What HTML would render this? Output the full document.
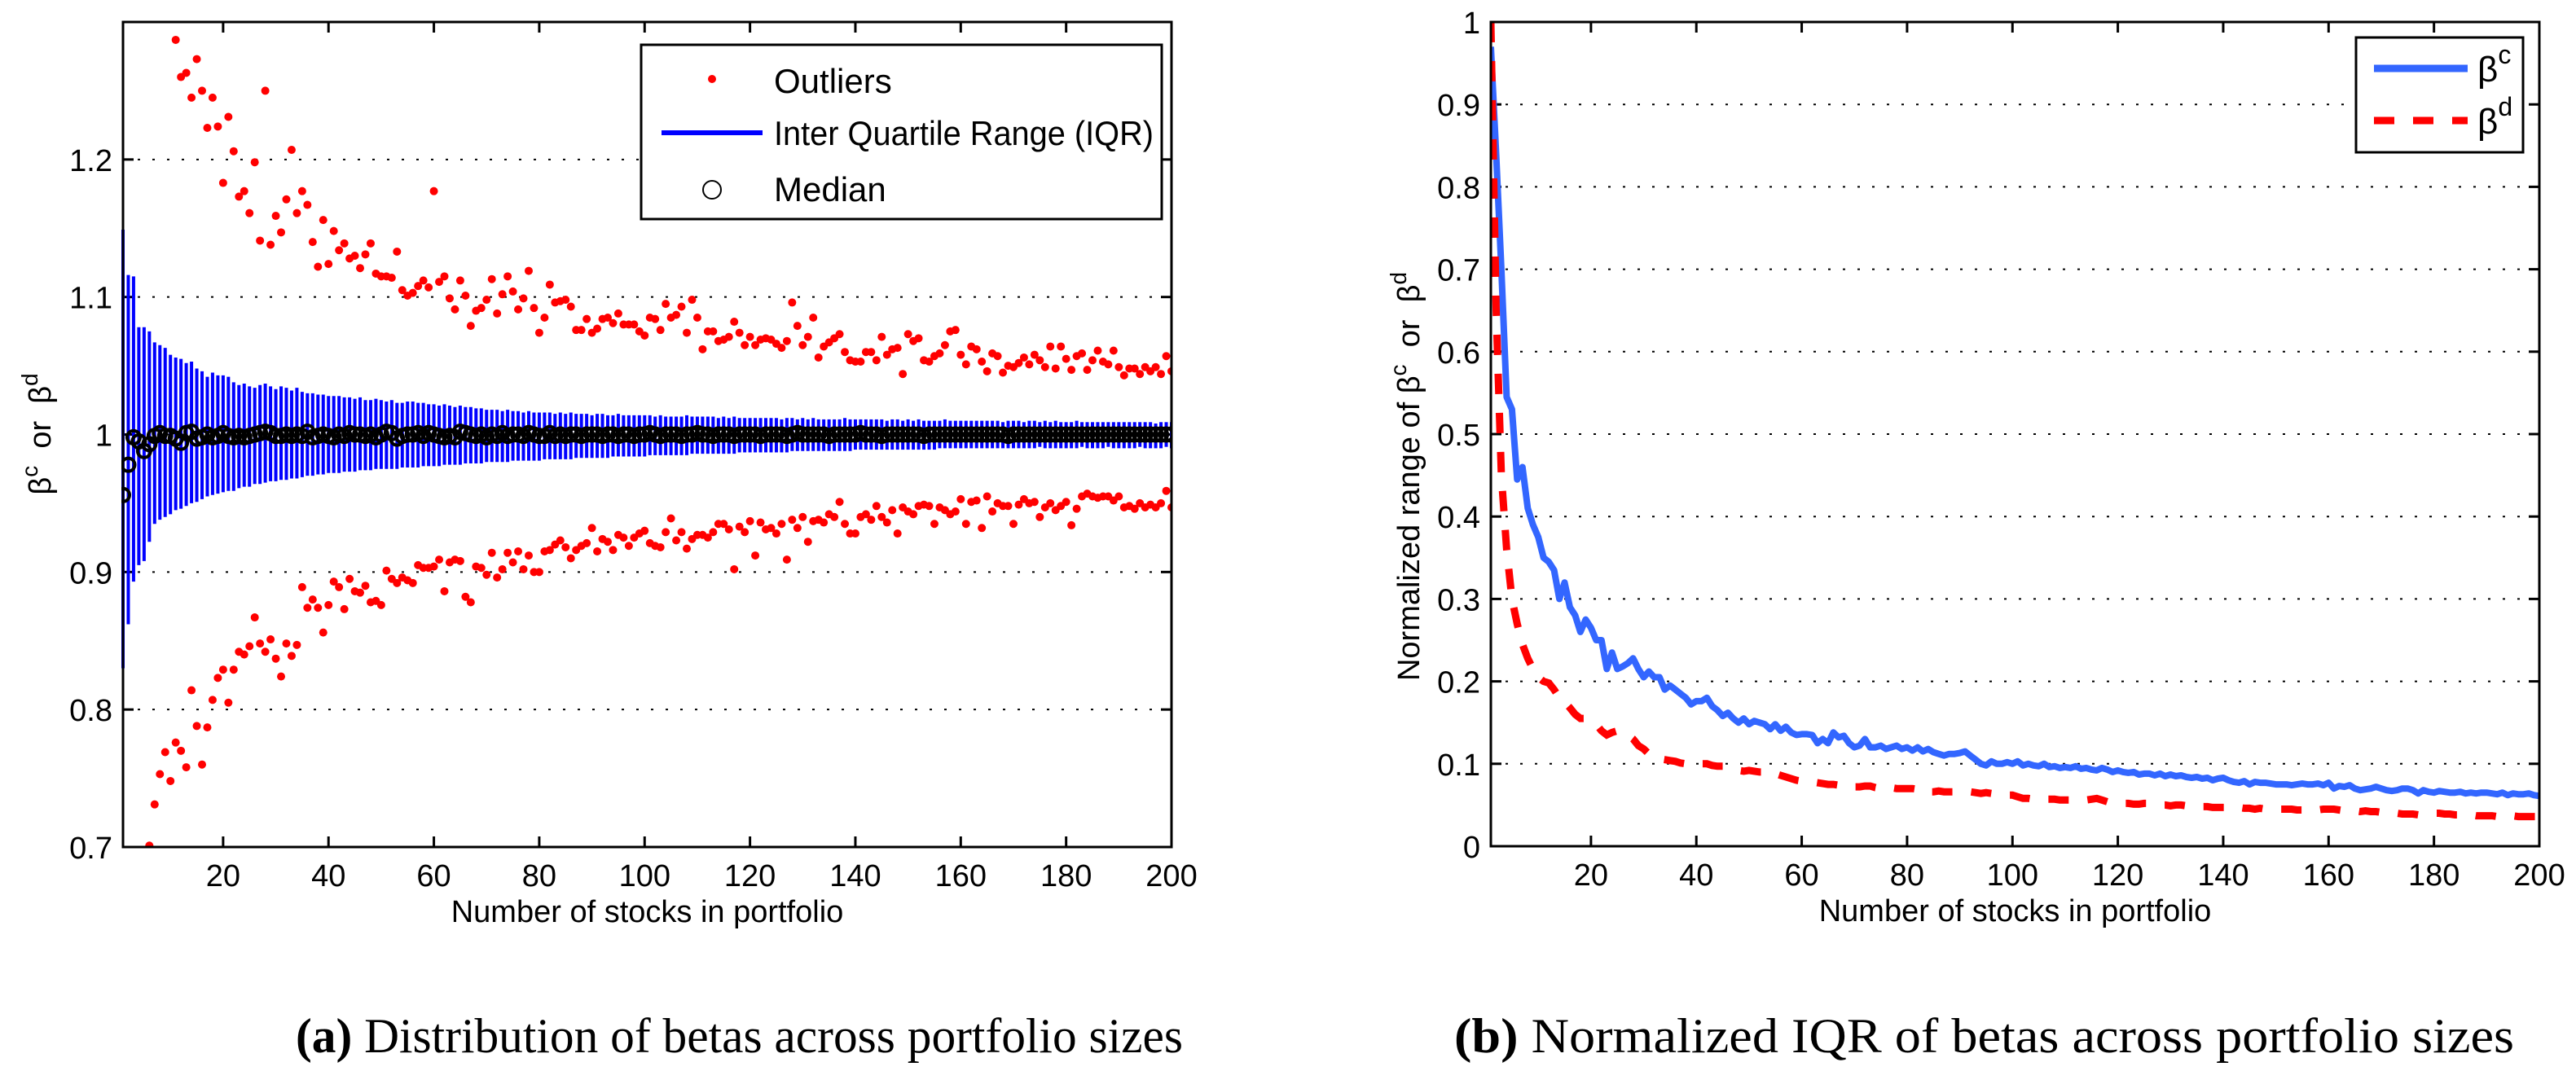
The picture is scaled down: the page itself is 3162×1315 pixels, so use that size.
<!DOCTYPE html>
<html><head><meta charset="utf-8"><style>
html,body{margin:0;padding:0;background:#fff}
svg{display:block}
text{font-family:"Liberation Sans",sans-serif}
.cap{font-family:"Liberation Serif",serif}
</style></head><body>
<svg id="fig" width="3162" height="1315" viewBox="0 0 3162 1315" xmlns="http://www.w3.org/2000/svg">
<rect width="3162" height="1315" fill="#fff"/>
<g id="left"></g>
<g id="right"></g>
<text class="cap" x="363" y="1292" font-size="60" textLength="1089" lengthAdjust="spacingAndGlyphs"><tspan font-weight="bold">(a)</tspan> Distribution of betas across portfolio sizes</text>
<text class="cap" x="1785" y="1292" font-size="60" textLength="1301" lengthAdjust="spacingAndGlyphs"><tspan font-weight="bold">(b)</tspan> Normalized IQR of betas across portfolio sizes</text>
</svg>
<script>
const xTicks = [20,40,60,80,100,120,140,160,180,200];
const yTicksL = [0.7,0.8,0.9,1,1.1,1.2];
const yTickLabelsL = ["0.7","0.8","0.9","1","1.1","1.2"];
const yTicksR = [0,0.1,0.2,0.3,0.4,0.5,0.6,0.7,0.8,0.9,1];
const yTickLabelsR = ["0","0.1","0.2","0.3","0.4","0.5","0.6","0.7","0.8","0.9","1"];
const q3 = [1.149,1.116,1.115,1.078,1.078,1.075,1.067,1.065,1.063,1.058,
1.056,1.055,1.052,1.053,1.048,1.046,1.042,1.045,1.043,1.043,
1.042,1.038,1.036,1.037,1.035,1.034,1.036,1.037,1.035,1.033,
1.035,1.034,1.032,1.034,1.031,1.030,1.030,1.029,1.029,1.028,
1.028,1.028,1.027,1.027,1.026,1.027,1.025,1.025,1.026,1.025,
1.024,1.025,1.023,1.023,1.024,1.024,1.023,1.023,1.022,1.022,
1.021,1.022,1.021,1.020,1.021,1.020,1.020,1.019,1.019,1.018,
1.018,1.018,1.017,1.018,1.017,1.017,1.016,1.017,1.016,1.016,
1.016,1.016,1.015,1.016,1.015,1.016,1.015,1.015,1.015,1.014,
1.015,1.015,1.014,1.014,1.015,1.014,1.014,1.014,1.014,1.014,
1.014,1.013,1.014,1.013,1.013,1.013,1.013,1.014,1.013,1.013,
1.013,1.013,1.013,1.012,1.013,1.012,1.013,1.012,1.012,1.012,
1.012,1.012,1.012,1.012,1.012,1.011,1.012,1.012,1.011,1.012,
1.011,1.012,1.011,1.011,1.011,1.011,1.011,1.012,1.011,1.011,
1.011,1.011,1.011,1.011,1.011,1.010,1.011,1.011,1.010,1.011,
1.010,1.011,1.010,1.010,1.010,1.010,1.011,1.010,1.010,1.010,
1.010,1.010,1.010,1.010,1.010,1.010,1.010,1.009,1.010,1.010,
1.010,1.009,1.010,1.010,1.009,1.010,1.009,1.010,1.009,1.009,
1.009,1.010,1.009,1.009,1.009,1.009,1.009,1.009,1.009,1.009,
1.009,1.009,1.009,1.009,1.009,1.009,1.008,1.009,1.009,1.009];
const q1 = [0.830,0.862,0.893,0.905,0.908,0.922,0.935,0.938,0.940,0.942,
0.945,0.946,0.948,0.950,0.951,0.953,0.955,0.956,0.957,0.958,
0.959,0.959,0.961,0.962,0.962,0.964,0.964,0.965,0.966,0.966,
0.967,0.967,0.968,0.968,0.969,0.970,0.970,0.971,0.971,0.972,
0.972,0.972,0.973,0.973,0.973,0.974,0.974,0.974,0.975,0.975,
0.975,0.975,0.975,0.976,0.976,0.976,0.976,0.977,0.977,0.977,
0.977,0.978,0.978,0.978,0.978,0.979,0.979,0.979,0.979,0.980,
0.980,0.980,0.980,0.980,0.981,0.981,0.981,0.981,0.981,0.981,
0.982,0.982,0.982,0.982,0.982,0.982,0.983,0.983,0.983,0.983,
0.983,0.983,0.983,0.984,0.984,0.984,0.984,0.984,0.984,0.984,
0.985,0.985,0.985,0.985,0.985,0.985,0.985,0.985,0.986,0.986,
0.986,0.986,0.986,0.986,0.986,0.986,0.986,0.987,0.987,0.987,
0.987,0.987,0.987,0.987,0.987,0.987,0.987,0.988,0.988,0.988,
0.988,0.988,0.988,0.988,0.988,0.988,0.988,0.988,0.988,0.989,
0.989,0.989,0.989,0.989,0.989,0.989,0.989,0.989,0.989,0.989,
0.989,0.989,0.989,0.989,0.989,0.990,0.990,0.990,0.990,0.990,
0.990,0.990,0.990,0.990,0.990,0.990,0.990,0.990,0.990,0.990,
0.990,0.990,0.990,0.990,0.991,0.990,0.990,0.990,0.990,0.990,
0.990,0.990,0.991,0.990,0.990,0.990,0.990,0.991,0.990,0.990,
0.990,0.990,0.990,0.991,0.990,0.990,0.990,0.990,0.991,0.990];
const medians = [0.956,0.978,0.998,0.995,0.988,0.993,0.999,1.001,0.999,0.999,
0.997,0.994,1.001,1.002,0.997,0.998,1.000,0.998,0.999,1.001,
0.999,0.998,0.999,0.998,0.999,1.000,1.001,1.002,1.001,0.999,
0.999,1.000,0.999,1.000,0.999,1.002,0.998,0.999,1.000,0.999,
0.998,1.000,0.999,1.001,1.000,1.000,0.999,1.000,0.998,1.000,
1.002,1.001,0.997,0.999,1.000,1.000,1.001,0.999,1.001,1.000,
0.999,0.998,0.999,0.998,1.002,1.001,1.000,0.999,1.000,0.998,
1.000,0.999,1.001,0.999,1.000,1.000,0.999,1.001,1.000,0.999,
0.999,1.001,0.999,1.000,0.999,1.000,1.000,0.999,1.000,1.000,
1.000,0.999,1.000,1.000,0.999,1.000,1.000,0.999,1.000,1.000,
1.001,1.000,0.999,1.000,1.000,1.000,0.999,1.000,1.000,1.001,
1.000,1.000,0.999,1.000,1.000,1.000,0.999,1.000,1.000,1.000,
1.000,0.999,1.000,1.000,1.000,1.000,0.999,1.000,1.001,1.000,
1.000,1.000,1.000,1.000,0.999,1.000,1.000,1.000,1.000,1.000,
1.001,1.000,1.000,1.000,0.999,1.000,1.000,1.000,1.000,1.000,
1.000,1.000,0.999,1.000,1.000,1.000,1.000,1.000,1.000,1.000,
1.000,1.000,1.000,1.000,1.000,1.000,1.000,1.000,0.999,1.000,
1.000,1.000,1.000,1.000,1.000,1.000,1.000,1.000,1.000,1.000,
1.000,1.000,1.000,1.000,1.000,1.000,1.000,1.000,1.000,1.000,
1.000,1.000,1.000,1.000,1.000,1.000,1.000,1.000,1.000,1.000];
const upperStart = 11;
const upperOutliers = [1.287,1.260,1.263,1.245,1.273,1.250,1.223,1.245,1.224,1.183,
1.231,1.206,1.173,1.177,1.161,1.198,1.141,1.250,1.138,1.159,
1.147,1.171,1.207,1.161,1.177,1.167,1.140,1.122,1.156,1.124,
1.148,1.134,1.139,1.128,1.130,1.121,1.131,1.139,1.117,1.115,
1.115,1.114,1.133,1.105,1.101,1.103,1.108,1.112,1.107,1.177,
1.111,1.115,1.099,1.091,1.112,1.101,1.079,1.090,1.092,1.098,
1.113,1.088,1.102,1.115,1.104,1.091,1.099,1.119,1.092,1.074,
1.085,1.109,1.096,1.097,1.098,1.093,1.076,1.076,1.084,1.074,
1.077,1.084,1.085,1.081,1.088,1.080,1.080,1.080,1.075,1.072,
1.085,1.084,1.076,1.095,1.085,1.087,1.093,1.074,1.098,1.085,1.062,
1.075,1.075,1.068,1.069,1.071,1.082,1.074,1.065,1.071,1.065,
1.069,1.070,1.069,1.066,1.063,1.068,1.096,1.079,1.065,1.071,
1.085,1.056,1.064,1.067,1.070,1.073,1.060,1.054,1.053,1.053,
1.060,1.060,1.054,1.071,1.058,1.062,1.063,1.044,1.073,1.068,
1.070,1.054,1.053,1.057,1.059,1.065,1.075,1.076,1.058,1.051,
1.064,1.062,1.053,1.046,1.059,1.057,1.045,1.050,1.049,1.052,
1.056,1.051,1.058,1.054,1.049,1.064,1.048,1.064,1.055,1.047,
1.057,1.059,1.047,1.054,1.061,1.053,1.051,1.061,1.049,1.043,
1.048,1.048,1.044,1.049,1.046,1.049,1.044,1.057,1.046];
const lowerStart = 6;
const lowerOutliers = [0.701,0.731,0.753,0.769,0.748,0.776,0.770,0.758,0.814,0.788,
0.760,0.787,0.807,0.823,0.829,0.805,0.829,0.842,0.840,0.846,
0.867,0.848,0.842,0.851,0.837,0.824,0.848,0.839,0.847,0.889,
0.874,0.880,0.874,0.856,0.876,0.893,0.889,0.873,0.895,0.886,
0.885,0.890,0.878,0.879,0.876,0.901,0.895,0.892,0.896,0.894,
0.892,0.905,0.903,0.903,0.904,0.909,0.886,0.907,0.909,0.908,
0.882,0.878,0.904,0.903,0.898,0.914,0.896,0.902,0.914,0.907,
0.915,0.902,0.912,0.900,0.900,
0.915,0.916,0.920,0.923,0.918,0.910,0.916,0.919,0.921,0.932,
0.915,0.924,0.922,0.916,0.927,0.925,0.919,0.925,0.928,0.930,
0.921,0.919,0.918,0.929,0.939,0.923,0.929,0.917,0.924,0.927,
0.927,0.925,0.929,0.935,0.935,0.931,0.902,0.933,0.929,0.937,
0.912,0.936,0.931,0.932,0.928,0.935,0.909,0.938,0.932,0.940,
0.922,0.937,0.938,0.936,0.942,0.940,0.951,0.935,0.928,0.928,
0.940,0.942,0.938,0.948,0.940,0.936,0.945,0.928,0.947,0.944,
0.942,0.948,0.949,0.948,0.935,0.947,0.945,0.942,0.944,0.953,
0.935,0.951,0.952,0.932,0.955,0.944,0.950,0.948,0.948,0.935,
0.949,0.953,0.950,0.951,0.940,0.947,0.950,0.945,0.948,0.951,
0.934,0.946,0.955,0.957,0.955,0.954,0.955,0.955,0.952,0.955,
0.947,0.948,0.946,0.950,0.947,0.949,0.947,0.950,0.959,0.947];
const betaC = [0.97,0.84,0.70,0.545,0.53,0.445,0.46,0.41,0.39,0.375,
0.35,0.345,0.335,0.30,0.32,0.29,0.28,0.26,0.275,0.265,
0.25,0.25,0.215,0.235,0.215,0.218,0.222,0.228,0.215,0.205,
0.212,0.205,0.205,0.19,0.195,0.19,0.185,0.18,0.172,0.176,
0.176,0.18,0.17,0.165,0.158,0.162,0.155,0.15,0.155,0.148,
0.152,0.15,0.148,0.142,0.148,0.14,0.145,0.138,0.135,0.136,
0.136,0.135,0.125,0.13,0.125,0.138,0.132,0.134,0.125,0.12,
0.122,0.13,0.12,0.12,0.122,0.118,0.12,0.122,0.118,0.12,
0.116,0.12,0.115,0.118,0.114,0.112,0.11,0.112,0.112,0.113,
0.115,0.11,0.105,0.1,0.098,0.103,0.1,0.1,0.102,0.1,
0.103,0.098,0.1,0.098,0.097,0.1,0.096,0.097,0.095,0.096,
0.095,0.097,0.094,0.095,0.093,0.092,0.095,0.093,0.09,0.092,
0.09,0.089,0.09,0.087,0.088,0.088,0.086,0.088,0.085,0.087,
0.085,0.086,0.084,0.083,0.084,0.082,0.083,0.08,0.082,0.083,
0.08,0.078,0.077,0.079,0.075,0.078,0.077,0.077,0.076,0.075,
0.075,0.075,0.074,0.075,0.076,0.075,0.075,0.076,0.074,0.077,
0.07,0.073,0.072,0.074,0.07,0.068,0.069,0.07,0.072,0.07,
0.068,0.067,0.068,0.07,0.07,0.068,0.064,0.068,0.066,0.065,
0.067,0.066,0.065,0.065,0.066,0.064,0.065,0.064,0.065,0.065,
0.064,0.063,0.065,0.062,0.064,0.063,0.063,0.064,0.062,0.061];
const betaD = [1.0,0.65,0.45,0.36,0.30,0.27,0.245,0.228,0.215,0.205,
0.2,0.198,0.19,0.18,0.175,0.168,0.16,0.155,0.155,0.152,
0.148,0.14,0.135,0.138,0.14,0.138,0.135,0.13,0.122,0.118,
0.112,0.108,0.106,0.105,0.104,0.103,0.101,0.1,0.1,0.099,
0.1,0.1,0.098,0.097,0.097,0.096,0.094,0.092,0.091,0.092,
0.091,0.09,0.09,0.091,0.088,0.086,0.084,0.082,0.08,0.079,
0.078,0.078,0.077,0.076,0.075,0.075,0.074,0.075,0.073,0.072,
0.072,0.073,0.073,0.071,0.07,0.07,0.071,0.07,0.07,0.07,
0.07,0.069,0.07,0.066,0.066,0.067,0.066,0.066,0.066,0.066,
0.066,0.066,0.065,0.064,0.065,0.064,0.064,0.063,0.062,0.062,
0.06,0.058,0.058,0.057,0.057,0.057,0.057,0.057,0.056,0.056,
0.056,0.056,0.056,0.056,0.057,0.058,0.056,0.054,0.053,0.053,
0.052,0.052,0.051,0.051,0.052,0.052,0.051,0.05,0.05,0.049,
0.05,0.05,0.049,0.049,0.048,0.048,0.048,0.047,0.047,0.047,
0.047,0.046,0.047,0.046,0.046,0.045,0.046,0.045,0.045,0.045,
0.045,0.045,0.045,0.044,0.044,0.044,0.043,0.044,0.045,0.045,
0.045,0.044,0.043,0.043,0.043,0.042,0.043,0.042,0.042,0.041,
0.04,0.04,0.04,0.039,0.039,0.039,0.038,0.039,0.04,0.04,
0.04,0.039,0.039,0.038,0.038,0.038,0.038,0.037,0.037,0.037,
0.037,0.036,0.036,0.037,0.037,0.036,0.036,0.036,0.036,0.036];

const NS = "http://www.w3.org/2000/svg";
function mk(parent, tag, attrs, txt){
  const e = document.createElementNS(NS, tag);
  for (const k in attrs) e.setAttribute(k, attrs[k]);
  if (txt !== undefined) e.textContent = txt;
  parent.appendChild(e);
  return e;
}
function scale(d0,d1,r0,r1){ return v => r0 + (v-d0)/(d1-d0)*(r1-r0); }

function frame(g, L, R, T, B, xs, ys, yTicks, yLabels, labelRight){
  yTicks.forEach((v,i)=>{
    const y = ys(v);
    if (y > T+2 && y < B-2) {
      const gl = mk(g,'line',{x1:L,x2:R,y1:y,y2:y,stroke:'#000','stroke-width':2,'stroke-dasharray':'3,15'});
      
      
    }
    const t1 = mk(g,'line',{x1:L,x2:L+13,y1:y,y2:y,stroke:'#000','stroke-width':3});
    
    
    const t2 = mk(g,'line',{x1:R-13,x2:R,y1:y,y2:y,stroke:'#000','stroke-width':3});
    
    
    const lb = mk(g,'text',{x:labelRight,y:y+14,'font-size':38,'text-anchor':'end'},yLabels[i]);
    
    
  });
  xTicks.forEach(v=>{
    const x = xs(v);
    const a = mk(g,'line',{x1:x,x2:x,y1:B,y2:B-13,stroke:'#000','stroke-width':3});
    
    
    const b = mk(g,'line',{x1:x,x2:x,y1:T,y2:T+13,stroke:'#000','stroke-width':3});
    
    
    const lb = mk(g,'text',{x:x,y:B+48,'font-size':38,'text-anchor':'middle'},String(v));
    
    
  });
  const xl = mk(g,'text',{x:(L+R)/2,y:B+92,'font-size':38,'text-anchor':'middle'},'Number of stocks in portfolio');
  
  
}
function box(g,L,R,T,B){
  const r = mk(g,'rect',{x:L,y:T,width:R-L,height:B-T,fill:'none',stroke:'#000','stroke-width':3});
  
  
}

(function(){
  const g = document.getElementById('left');
  const L=151,R=1438,T=27,B=1040;
  const xs = scale(1,200,L,R), ys = scale(0.7,1.3,B,T);
  frame(g,L,R,T,B,xs,ys,yTicksL,yTickLabelsL,138);
  const clip = mk(g,'clipPath',{id:'clipL'});
  mk(clip,'rect',{x:L-2,y:T,width:R-L+2,height:B-T});
  const pg = mk(g,'g',{'clip-path':'url(#clipL)'});
  q3.forEach((v,i)=>{
    const x = xs(i+1);
    const bar = mk(pg,'line',{x1:x,x2:x,y1:ys(q1[i]),y2:ys(v),stroke:'#0000ff','stroke-width':4});
    
    
  });
  upperOutliers.forEach((v,i)=>{
    const c = mk(pg,'circle',{cx:xs(upperStart+i),cy:ys(v),r:5,fill:'#ff0000'});
    
    
  });
  lowerOutliers.forEach((v,i)=>{
    const c = mk(pg,'circle',{cx:xs(lowerStart+i),cy:ys(v),r:5,fill:'#ff0000'});
    
    
  });
  medians.forEach((v,i)=>{
    const c = mk(pg,'circle',{cx:xs(i+1),cy:ys(v),r:8,fill:'none',stroke:'#000','stroke-width':4});
    
    
  });
  box(g,L,R,T,B);
  const yl = mk(g,'text',{transform:'translate(62,533) rotate(-90)','font-size':38,'text-anchor':'middle'});
  
  
  yl.innerHTML = 'β<tspan dy="-16" font-size="28">c</tspan><tspan dy="16">\u00a0\u00a0or\u00a0\u00a0β</tspan><tspan dy="-16" font-size="28">d</tspan>';
  const lg = mk(g,'g',{});
  
  
  mk(lg,'rect',{x:787,y:55,width:639,height:214,fill:'#fff',stroke:'#000','stroke-width':3});
  mk(lg,'circle',{cx:874,cy:97,r:5,fill:'#ff0000'});
  mk(lg,'line',{x1:812,x2:936,y1:163,y2:163,stroke:'#0000ff','stroke-width':6});
  mk(lg,'circle',{cx:874,cy:233,r:11,fill:'none',stroke:'#000','stroke-width':2});
  const e1 = mk(lg,'text',{x:950,y:114,'font-size':42},'Outliers');
  
  
  const e2 = mk(lg,'text',{x:950,y:178,'font-size':42,textLength:466,lengthAdjust:'spacingAndGlyphs'},'Inter Quartile Range (IQR)');
  
  
  const e3 = mk(lg,'text',{x:950,y:247,'font-size':42},'Median');
  
  
})();

(function(){
  const g = document.getElementById('right');
  const L=1830,R=3117,T=27,B=1039;
  const xs = scale(1,200,L,R), ys = scale(0,1,B,T);
  frame(g,L,R,T,B,xs,ys,yTicksR,yTickLabelsR,1817);
  const clip = mk(g,'clipPath',{id:'clipR'});
  mk(clip,'rect',{x:L,y:T,width:R-L,height:B-T});
  const pg = mk(g,'g',{'clip-path':'url(#clipR)'});
  const pc = betaC.map((v,i)=>xs(i+1).toFixed(1)+','+ys(v).toFixed(1)).join(' ');
  const pd = betaD.map((v,i)=>xs(i+1).toFixed(1)+','+ys(v).toFixed(1)).join(' ');
  const l1 = mk(pg,'polyline',{points:pc,fill:'none',stroke:'#3366ff','stroke-width':8,'stroke-linejoin':'round'});
  
  
  const l2 = mk(pg,'polyline',{points:pd,fill:'none',stroke:'#ff0000','stroke-width':9,'stroke-dasharray':'25,23'});
  
  
  box(g,L,R,T,B);
  const yl = mk(g,'text',{transform:'translate(1742,585) rotate(-90)','font-size':38,'text-anchor':'middle'});
  
  
  yl.innerHTML = 'Normalized range of β<tspan dy="-16" font-size="28">c</tspan><tspan dy="16">\u00a0\u00a0or\u00a0\u00a0β</tspan><tspan dy="-16" font-size="28">d</tspan>';
  const lg = mk(g,'g',{});
  
  
  mk(lg,'rect',{x:2892,y:46,width:205,height:141,fill:'#fff',stroke:'#000','stroke-width':3});
  mk(lg,'line',{x1:2914,x2:3029,y1:84,y2:84,stroke:'#3366ff','stroke-width':9});
  mk(lg,'line',{x1:2914,x2:3029,y1:148,y2:148,stroke:'#ff0000','stroke-width':9,'stroke-dasharray':'25,23'});
  const a = mk(lg,'text',{x:3041,y:100,'font-size':44});
  
  
  a.innerHTML = 'β<tspan dy="-22" font-size="32">c</tspan>';
  const b = mk(lg,'text',{x:3041,y:164,'font-size':44});
  
  
  b.innerHTML = 'β<tspan dy="-22" font-size="32">d</tspan>';
})();
</script>
</body></html>
